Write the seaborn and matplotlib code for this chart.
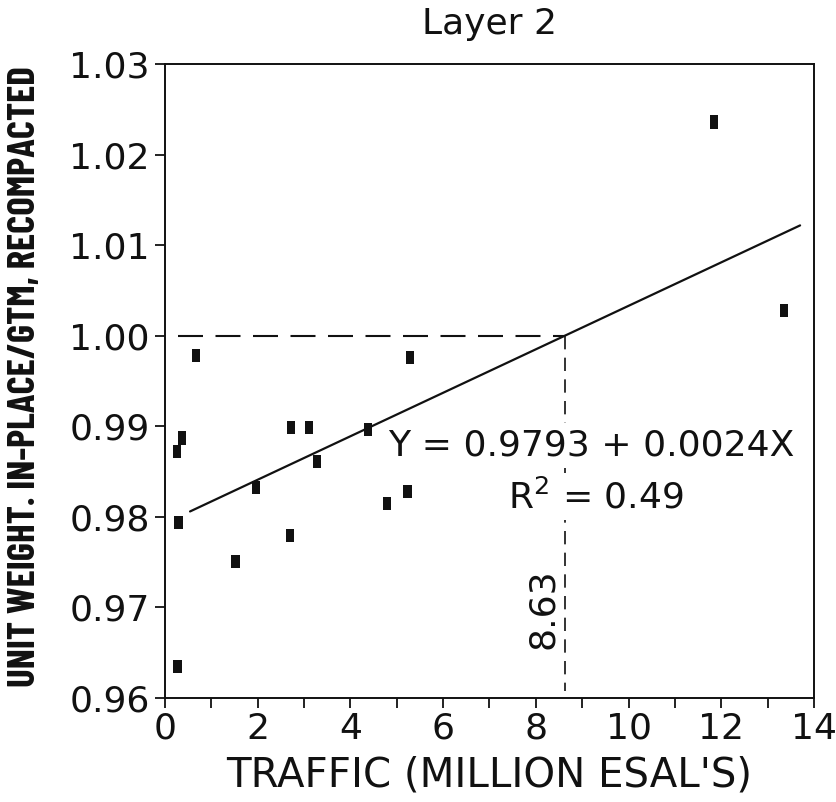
import matplotlib
matplotlib.use("Agg")
import matplotlib.pyplot as plt
from matplotlib import font_manager
import seaborn as sns
import numpy as np
import pandas as pd

# Measured sections: cumulative traffic vs. unit-weight ratio (layer 2)
traffic = [0.25, 0.36, 0.29, 0.27, 0.66, 1.52, 1.97, 2.69, 2.71, 3.10,
           3.27, 4.38, 4.79, 5.23, 5.29, 11.85, 13.35]
ratio = [0.9872, 0.9887, 0.9794, 0.9635, 0.9978, 0.9751, 0.9832, 0.9779,
         0.9899, 0.9899, 0.9861, 0.9896, 0.9815, 0.9828, 0.9976, 1.0236,
         1.0028]

# Fitted relationship Y = a + bX and where it crosses a ratio of 1.00
intercept = 0.9793
slope = 0.0024
r_squared = 0.49
fit_range = [0.54, 13.7]
target_ratio = 1.00
x_at_target = 8.63

xticks = [0, 2, 4, 6, 8, 10, 12, 14]
yticks = [0.96, 0.97, 0.98, 0.99, 1.00, 1.01, 1.02, 1.03]

sns.set_theme(style="white")
plt.rcParams["font.family"] = ["DejaVu Sans"]
INK = "#111111"


def pick_family(candidates):
    names = {f.name for f in font_manager.fontManager.ttflist}
    for c in candidates:
        if c in names:
            return c
    return "DejaVu Sans"


# Narrow bold face for the long vertical axis title
ylabel_family = pick_family(["Barlow Condensed", "Fira Sans Extra Condensed",
                             "IBM Plex Sans Condensed", "Roboto Condensed"])

fig = plt.figure(figsize=(8.37, 8.02), dpi=100)
ax = fig.add_axes([165 / 837, 1 - 698 / 802, (814 - 165) / 837, (698 - 64) / 802])

df = pd.DataFrame({"traffic": traffic, "ratio": ratio})
rect = [(-0.31, -0.5), (0.31, -0.5), (0.31, 0.5), (-0.31, 0.5), (-0.31, -0.5)]
sns.scatterplot(data=df, x="traffic", y="ratio", ax=ax, marker=rect, s=90,
                color=INK, edgecolor="none", linewidth=0, zorder=4)

fit_x = np.array(fit_range)
fit = pd.DataFrame({"x": fit_x, "y": intercept + slope * fit_x})
sns.lineplot(data=fit, x="x", y="y", ax=ax, color=INK, lw=1.6, zorder=3)

# Reference lines locating the traffic at which the ratio reaches 1.00
ax.plot([0.28, x_at_target], [target_ratio, target_ratio], color=INK,
        lw=1.5, dashes=(12, 6), zorder=2)
ax.plot([x_at_target, x_at_target], [target_ratio, 0.9608], color=INK,
        lw=1.2, dashes=(8, 5), zorder=2)

ax.set_xlim(0, 14)
ax.set_ylim(0.96, 1.03)
ax.set_xticks(np.arange(0, 15, 1))
ax.set_xticklabels([str(t) if t in xticks else "" for t in range(0, 15)])
ax.set_yticks(yticks)
ax.set_yticklabels([f"{v:.2f}" for v in yticks])

ax.tick_params(axis="both", direction="out", length=7, width=1.3,
               color=INK, labelsize=26, labelcolor=INK)
ax.tick_params(axis="y", pad=4)
ax.tick_params(axis="x", pad=3)
ax.tick_params(left=True, bottom=True)
for sp in ax.spines.values():
    sp.set_visible(True)
    sp.set_color(INK)
    sp.set_linewidth(1.4)

ax.set_xlabel("")
ax.set_ylabel("")
fig.text((165 + 814) / 2 / 837, 1 - 776 / 802, "TRAFFIC (MILLION ESAL'S)",
         ha="center", va="center", fontsize=29, color=INK)
ylab = fig.text(25 / 837, 1 - 377 / 802, "UNIT WEIGHT. IN-PLACE/GTM, RECOMPACTED",
                ha="center", va="center", rotation=90, fontsize=30,
                fontweight="bold", color=INK, family=[ylabel_family, "DejaVu Sans"])
# shrink the vertical title so it spans the height of the axes
renderer = fig.canvas.get_renderer()
span = ylab.get_window_extent(renderer).height
ylab.set_fontsize(30 * 622 / span)

fig.text((165 + 814) / 2 / 837, 1 - 24 / 802, "Layer 2", ha="center",
         va="center", fontsize=26, color=INK)

# Equation block sits on a white patch so the drop line breaks around it
box = dict(boxstyle="square,pad=0.15", facecolor="white", edgecolor="none")
ax.text(9.2, 0.9879, f"Y = {intercept:.4f} + {slope:.4f}X", ha="center",
        va="center", fontsize=26, color=INK, bbox=box, zorder=5)
ax.text(9.3, 0.9822, f"R$^2$ = {r_squared:.2f}", ha="center", va="center",
        fontsize=26, color=INK, bbox=box, zorder=5)
ax.text(8.16, 0.9699, f"{x_at_target:.2f}", ha="center", va="center",
        rotation=90, fontsize=26, color=INK)

fig.savefig("out.png", dpi=100, facecolor="white")
